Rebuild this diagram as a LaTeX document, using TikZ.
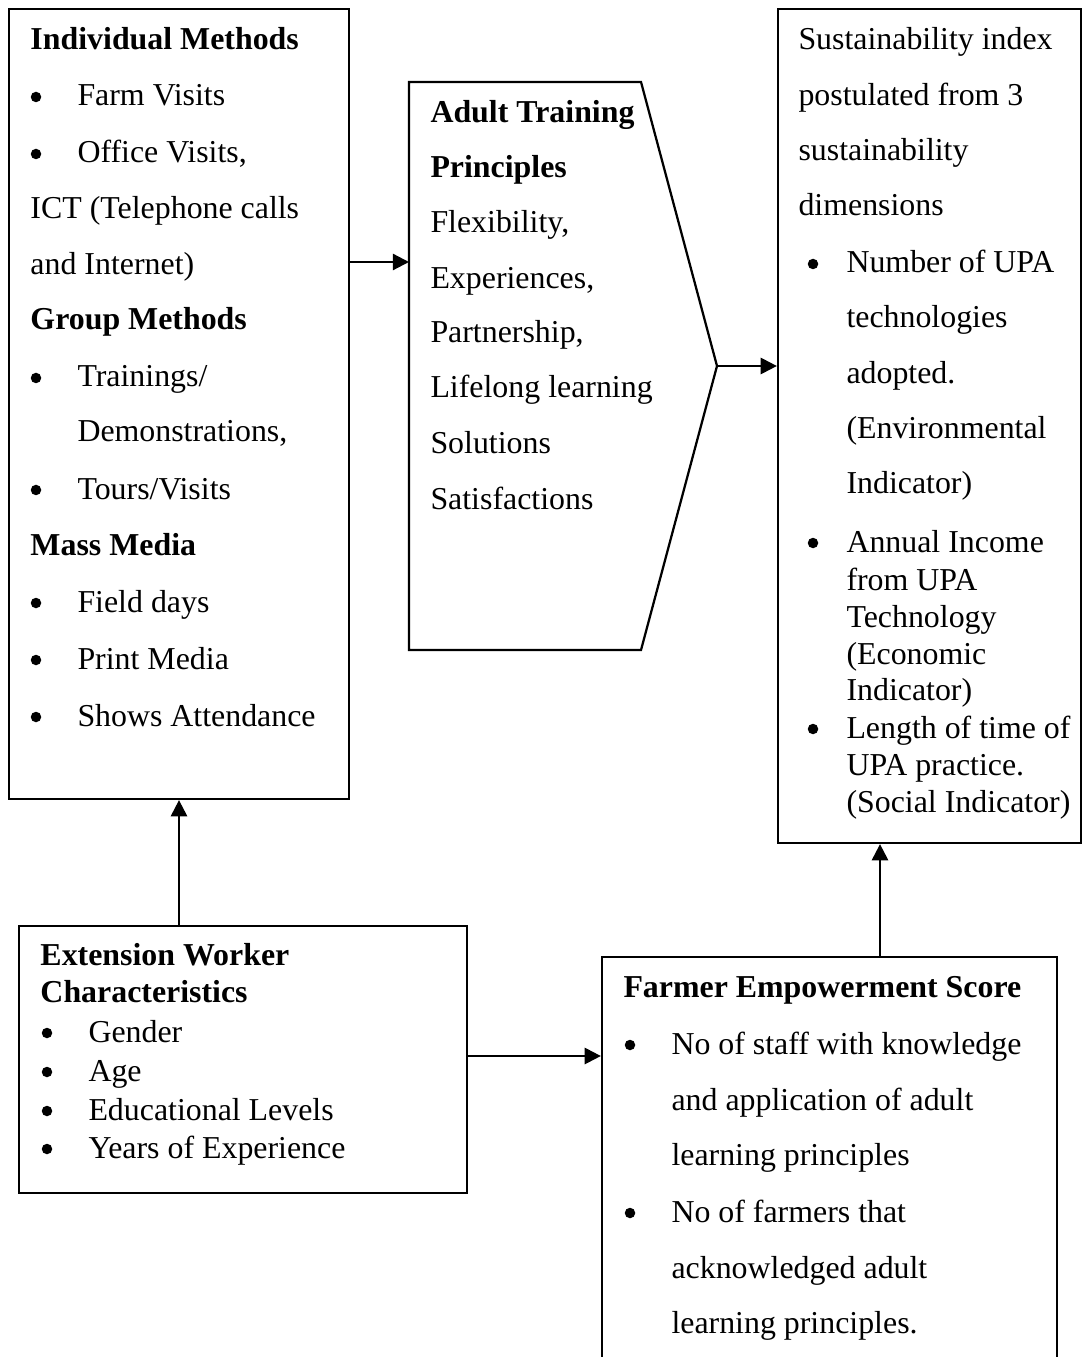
\documentclass[tikz,border=0pt]{standalone}
\usepackage{fontspec}
\setmainfont{Liberation Serif}
\usetikzlibrary{arrows.meta}
\begin{document}
\begin{tikzpicture}[x=0.4pt,y=-0.4pt,
  box/.style={draw,line width=0.9pt,inner sep=0pt,anchor=center},
  txt/.style={anchor=base west,inner sep=0pt,font=\fontsize{12.75}{15}\selectfont},
  bul/.style={circle,fill=black,inner sep=0pt,minimum size=4.2pt},
  arr/.style={line width=0.9pt,-{Triangle[length=6.5pt,width=6.5pt]}}]
\useasboundingbox (0,0) rectangle (1083,1357);
\clip (0,0) rectangle (1083,1357);
\fill[white] (0,0) rectangle (1083,1357);

% boxes
\node[box,minimum width=136pt,minimum height=316pt] (A) at (179,404) {};
\node[box,minimum width=121.2pt,minimum height=333.6pt] (C) at (929.5,426) {};
\node[box,minimum width=179.2pt,minimum height=106.8pt] (E) at (243,1059.5) {};
\node[box,minimum width=182pt,minimum height=177.2pt] (D) at (829.5,1178.5) {};
\draw[line width=0.9pt] (409,82) coordinate (Bnw) -- (641,82) coordinate (Bne)
  -- (717,366) coordinate (Btip) -- (641,650) coordinate (Bse) -- (409,650) coordinate (Bsw) -- cycle;
\coordinate (Bw) at (409,366);

% connectors
\coordinate (ab) at (0,262);
\draw[arr] (A.east |- ab) -- (Bw |- ab);
\draw[arr] (Btip) -- (Btip -| C.west);
\draw[arr] (E.north -| A.south) -- (A.south);
\coordinate (dc) at (880,0);
\draw[arr] (D.north -| dc) -- (C.south -| dc);
\coordinate (ed) at (0,1056);
\draw[arr] (E.east |- ed) -- (D.west |- ed);

% box A text
\foreach \y/\x/\s [count=\i] in {
  50/30/{\bfseries Individual Methods},
  106/77/{Farm Visits},
  163/77/{Office Visits,},
  219/30/{ICT (Telephone calls},
  275/30/{and Internet)},
  330/30/{\bfseries Group Methods},
  387/77/{Trainings\slash},
  442/77/{Demonstrations,},
  499/77/{Tours\slash Visits},
  555/30/{\bfseries Mass Media},
  612/77/{Field days},
  669/77/{Print Media},
  726/77/{Shows Attendance}}
  \node[txt] (A-\i) at (\x,\y) {\s};
\foreach \y [count=\i] in {106,163,387,499,612,669,726}
  \node[bul] (Ab-\i) at (36,\y-9) {};

% box B text
\foreach \y/\s [count=\i] in {
  123/{\bfseries Adult Training},
  178/{\bfseries Principles},
  233/{Flexibility,},
  289/{Experiences,},
  343/{Partnership,},
  398/{Lifelong learning},
  453/{Solutions},
  509/{Satisfactions}}
  \node[txt] (B-\i) at (430,\y) {\s};

% box C text
\foreach \y/\x/\s [count=\i] in {
  50/798/{Sustainability index},
  106/798/{postulated from 3},
  161/798/{sustainability},
  216/798/{dimensions},
  273/846/{Number of UPA},
  328/846/{technologies},
  384/846/{adopted.},
  439/846/{(Environmental},
  494/846/{Indicator)},
  552/846/{Annual Income},
  590/846/{from UPA},
  627/846/{Technology},
  664/846/{(Economic},
  700/846/{Indicator)},
  738/846/{Length of time of},
  775/846/{UPA practice.},
  812/846/{(Social Indicator)}}
  \node[txt] (C-\i) at (\x,\y) {\s};
\foreach \y [count=\i] in {273,552,738}
  \node[bul] (Cb-\i) at (813,\y-9) {};

% box E text
\foreach \y/\x/\s [count=\i] in {
  965/40/{\bfseries Extension Worker},
  1002/40/{\bfseries Characteristics},
  1042/88/{Gender},
  1081/88/{Age},
  1120/88/{Educational Levels},
  1158/88/{Years of Experience}}
  \node[txt] (E-\i) at (\x,\y) {\s};
\foreach \y [count=\i] in {1042,1081,1120,1158}
  \node[bul] (Eb-\i) at (47,\y-9) {};

% box D text
\foreach \y/\x/\s [count=\i] in {
  997/623/{\bfseries Farmer Empowerment Score},
  1054/671/{No of staff with knowledge},
  1110/671/{and application of adult},
  1165/671/{learning principles},
  1222/671/{No of farmers that},
  1278/671/{acknowledged adult},
  1333/671/{learning principles.}}
  \node[txt] (D-\i) at (\x,\y) {\s};
\foreach \y [count=\i] in {1054,1222}
  \node[bul] (Db-\i) at (630,\y-9) {};
\end{tikzpicture}
\end{document}
